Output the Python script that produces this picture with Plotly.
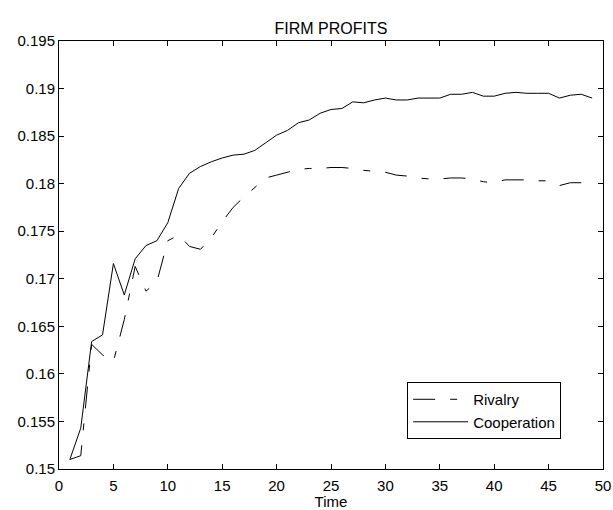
import plotly.graph_objects as go

time = list(range(1, 50))

rivalry = [0.1510, 0.1514, 0.1631, 0.1620, 0.1613, 0.1657, 0.1713, 0.1687, 0.1697, 0.1740,
           0.1746, 0.1734, 0.1731, 0.1743, 0.1760, 0.1775, 0.1786, 0.1796, 0.1806, 0.1809,
           0.1812, 0.1815, 0.1816, 0.1816, 0.1817, 0.1817, 0.1816, 0.1814, 0.1813, 0.1812,
           0.1809, 0.1808, 0.1806, 0.1805, 0.1805, 0.1806, 0.1806, 0.1805, 0.1802, 0.1801,
           0.1804, 0.1804, 0.1804, 0.1803, 0.1803, 0.1798, 0.1801, 0.1801, 0.1799]

cooperation = [0.1510, 0.1543, 0.1634, 0.1641, 0.1716, 0.1683, 0.1721, 0.1735, 0.1740, 0.1759,
               0.1795, 0.1811, 0.1818, 0.1823, 0.1827, 0.1830, 0.1831, 0.1835, 0.1843, 0.1851,
               0.1856, 0.1864, 0.1867, 0.1874, 0.1878, 0.1879, 0.1886, 0.1885, 0.1888, 0.1890,
               0.1888, 0.1888, 0.1890, 0.1890, 0.1890, 0.1894, 0.1894, 0.1896, 0.1892, 0.1892,
               0.1895, 0.1896, 0.1895, 0.1895, 0.1895, 0.1890, 0.1893, 0.1894, 0.1890]

x_ticks = [0, 5, 10, 15, 20, 25, 30, 35, 40, 45, 50]
y_ticks = [0.15, 0.155, 0.16, 0.165, 0.17, 0.175, 0.18, 0.185, 0.19, 0.195]
y_tick_labels = ["0.15", "0.155", "0.16", "0.165", "0.17", "0.175", "0.18", "0.185", "0.19", "0.195"]

FONT = "Liberation Sans, Arial, sans-serif"

fig = go.Figure()
fig.add_trace(go.Scatter(x=time, y=rivalry, mode="lines", name="Rivalry",
                         line=dict(color="black", width=1, dash="22px,15px,7px,15px")))
fig.add_trace(go.Scatter(x=time, y=cooperation, mode="lines", name="Cooperation",
                         line=dict(color="black", width=1)))

axis_common = dict(showline=True, linecolor="black", linewidth=1, mirror="allticks",
                   ticks="inside", ticklen=5, tickwidth=1, tickcolor="black",
                   showgrid=False, zeroline=False, automargin=False,
                   tickfont=dict(family=FONT, size=15, color="black"))

fig.update_layout(
    width=613, height=510,
    margin=dict(l=59, r=10, t=41, b=41),
    paper_bgcolor="white", plot_bgcolor="white",
    font=dict(family=FONT, size=15, color="black"),
    title=dict(text="FIRM PROFITS", x=0.5, xref="paper", xanchor="center",
               y=1, yref="paper", yanchor="bottom", pad=dict(b=7),
               font=dict(family=FONT, size=16, color="black")),
    xaxis=dict(range=[0, 50], tickvals=x_ticks, ticklabelstandoff=3,
               title=dict(text="Time", standoff=0, font=dict(family=FONT, size=15)),
               **axis_common),
    yaxis=dict(range=[0.15, 0.195], tickvals=y_ticks, ticktext=y_tick_labels, **axis_common),
    showlegend=True,
    legend=dict(x=0.64, y=0.07, xanchor="left", yanchor="bottom",
                bordercolor="black", borderwidth=1, bgcolor="white",
                itemwidth=55, font=dict(family=FONT, size=15, color="black"),
                tracegroupgap=0),
    hovermode=False,
)

fig.write_html("out.html", config={"displayModeBar": False})
